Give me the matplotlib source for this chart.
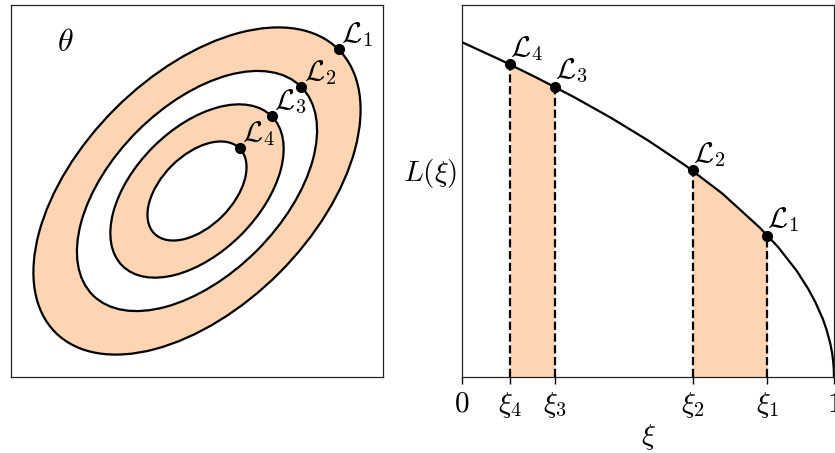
import matplotlib
matplotlib.use('Agg')
import matplotlib.pyplot as plt
from matplotlib.patches import Ellipse
import numpy as np

plt.rcParams['mathtext.fontset'] = 'cm'

peach = '#fdd5b2'

# nested likelihood contours (outermost first), semi-axes in axes units
contour_a = [0.538, 0.396, 0.284, 0.162]
contour_b = [0.312, 0.227, 0.167, 0.096]
contour_fill = [peach, 'white', peach, 'white']
contour_labels = [r'$\mathcal{L}_1$', r'$\mathcal{L}_2$', r'$\mathcal{L}_3$', r'$\mathcal{L}_4$']
centre = (0.5, 0.5)
tilt = 45.0

# L(xi) curve
curve_xi = [0.0, 0.1, 0.2, 0.3, 0.4, 0.5, 0.6, 0.7, 0.8, 0.85, 0.9, 0.93,
            0.95, 0.97, 0.98, 0.99, 0.995, 0.998, 0.9995, 1.0]
curve_L = [0.900, 0.854, 0.805, 0.753, 0.697, 0.636, 0.569, 0.493, 0.402, 0.349,
           0.285, 0.238, 0.201, 0.156, 0.127, 0.090, 0.064, 0.040, 0.020, 0.0]

# sampled points xi_1..xi_4 and their likelihoods
point_xi = [0.821, 0.620, 0.249, 0.129]
point_L = [0.380, 0.556, 0.780, 0.841]
xi_ticks = [0.0, 0.129, 0.249, 0.620, 0.821, 1.0]
xi_ticklabels = ['$0$', r'$\xi_4$', r'$\xi_3$', r'$\xi_2$', r'$\xi_1$', '$1$']

fs = 21

fig = plt.figure(figsize=(8.35, 4.53), dpi=100)
ax1 = fig.add_axes([11 / 835, 76 / 453, 372 / 835, 372 / 453])
ax2 = fig.add_axes([462 / 835, 76 / 453, 372 / 835, 372 / 453])

# left: parameter space
for a, b, fc in zip(contour_a, contour_b, contour_fill):
    ax1.add_patch(Ellipse(centre, 2 * a, 2 * b, angle=tilt, facecolor=fc,
                          edgecolor='black', lw=1.6))
for a, lab in zip(contour_a, contour_labels):
    px = centre[0] + a * np.cos(np.radians(tilt))
    py = centre[1] + a * np.sin(np.radians(tilt))
    ax1.plot(px, py, 'o', color='black', ms=7, zorder=5)
    ax1.annotate(lab, (px, py), xytext=(2, 0), textcoords='offset points',
                 ha='left', va='bottom', fontsize=fs)
ax1.text(0.145, 0.898, r'$\theta$', fontsize=23, ha='center', va='center',
         transform=ax1.transAxes)
ax1.set_xlim(0, 1)
ax1.set_ylim(0, 1)
ax1.set_xticks([])
ax1.set_yticks([])
for s in ax1.spines.values():
    s.set_linewidth(0.9)
    s.set_color('#222222')

# right: likelihood against enclosed prior mass
ax2.plot(curve_xi, curve_L, color='black', lw=1.6, zorder=4)
cx = np.array(curve_xi)
cl = np.array(curve_L)
for lo, hi in [(3, 2), (1, 0)]:
    mask = (cx > point_xi[lo]) & (cx < point_xi[hi])
    fx = np.concatenate([[point_xi[lo]], cx[mask], [point_xi[hi]]])
    fl = np.concatenate([[point_L[lo]], cl[mask], [point_L[hi]]])
    ax2.fill_between(fx, 0, fl, color=peach, lw=0, zorder=1)
for x, y, lab in zip(point_xi, point_L, contour_labels):
    ax2.plot([x, x], [0, y], color='black', ls='--', lw=1.6, zorder=3)
    ax2.plot(x, y, 'o', color='black', ms=7, zorder=5)
    ax2.annotate(lab, (x, y), xytext=(0, 1), textcoords='offset points',
                 ha='left', va='bottom', fontsize=fs)
ax2.set_xlim(0, 1)
ax2.set_ylim(0, 1)
ax2.set_yticks([])
ax2.set_xticks(xi_ticks)
ax2.set_xticklabels(xi_ticklabels, fontsize=fs)
ax2.tick_params(axis='x', length=5, width=1.0, pad=4)
ax2.set_xlabel(r'$\xi$', fontsize=fs, labelpad=2)
ax2.text(-0.012, 0.548, r'$L(\xi)$', fontsize=fs, ha='right', va='center',
         transform=ax2.transAxes)
for s in ax2.spines.values():
    s.set_linewidth(0.9)
    s.set_color('#222222')

fig.savefig('out.png', dpi=100)
